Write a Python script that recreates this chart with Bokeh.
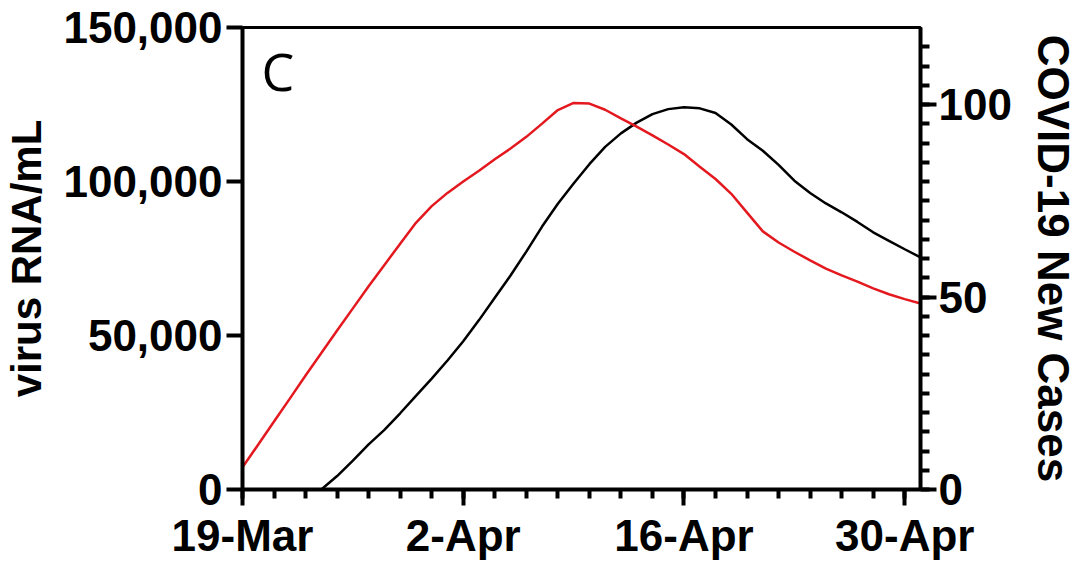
import pandas as pd
from bokeh.plotting import figure
from bokeh.models import Range1d, LinearAxis, FixedTicker, Label, NumeralTickFormatter
from bokeh.embed import file_html
from bokeh.resources import INLINE

# ---- data ----
start_date = pd.Timestamp("2020-03-19")
end_date = pd.Timestamp("2020-05-01")
x_tick_dates = ["2020-03-19", "2020-04-02", "2020-04-16", "2020-04-30"]
x_tick_labels = ["19-Mar", "2-Apr", "16-Apr", "30-Apr"]

# virus RNA/mL (red, left axis), one reading per day from 19-Mar
rna_dates = pd.date_range("2020-03-19", "2020-05-01", freq="D")
rna_values = [7200, 14600, 22100, 29500, 37000, 44300, 51600, 58800, 66000, 72900,
              79800, 86600, 92000, 96300, 100000, 103500, 107200, 110700, 114500, 118800,
              123200, 125500, 125300, 123300, 120500, 117800, 115000, 112000, 108900, 104800,
              100800, 96000, 89900, 83800, 80200, 77200, 74400, 71700, 69500, 67500,
              65300, 63400, 61800, 60400]

# COVID-19 new cases (black, right axis), one reading per day from 24-Mar
case_dates = pd.date_range("2020-03-24", "2020-05-01", freq="D")
case_values = [0, 3.5, 7.5, 11.7, 15.5, 19.8, 24.3, 28.8, 33.5, 38.5,
               44, 49.8, 55.6, 61.8, 68.3, 74.2, 79.5, 84.5, 89, 92.5,
               95.3, 97.5, 98.8, 99.3, 99, 97.8, 94.8, 91, 88, 84.3,
               80.2, 77, 74.3, 72, 69.5, 66.8, 64.6, 62.4, 60.3]

left_ticks = [0, 50000, 100000, 150000]
right_ticks = [0, 50, 100]
right_minor_ticks = list(range(0, 120, 5))
panel_letter = "C"
left_title = "virus RNA/mL"
right_title = "COVID-19 New Cases"


def day_of(d):
    return (pd.Timestamp(d) - start_date).days


rna_x = [day_of(d) for d in rna_dates]
case_x = [day_of(d) for d in case_dates]
x_major = [day_of(d) for d in x_tick_dates]
x_minor = list(range(0, day_of("2020-04-30") + 1, 2))
x_end = day_of(end_date)

FONT = "Liberation Sans"

p = figure(width=1080, height=563, output_backend="svg", toolbar_location=None,
           x_range=Range1d(0, x_end), y_range=Range1d(0, 150000),
           min_border_left=241, min_border_right=155, min_border_top=27, min_border_bottom=74)
p.extra_y_ranges = {"cases": Range1d(0, 120)}
p.xgrid.visible = False
p.ygrid.visible = False
p.outline_line_color = "black"
p.outline_line_width = 3
p.background_fill_color = "white"
p.border_fill_color = "white"


def style(ax, label_standoff=4, title_size="42px"):
    ax.axis_line_width = 4
    ax.axis_line_color = "black"
    ax.major_tick_line_width = 4
    ax.minor_tick_line_width = 4
    ax.major_tick_line_color = "black"
    ax.minor_tick_line_color = "black"
    ax.major_tick_in = 0
    ax.minor_tick_in = 0
    ax.major_tick_out = 16
    ax.minor_tick_out = 9
    ax.major_label_text_font = FONT
    ax.major_label_text_font_style = "bold"
    ax.major_label_text_font_size = "44px"
    ax.major_label_text_color = "black"
    ax.major_label_standoff = label_standoff
    ax.axis_label_text_font = FONT
    ax.axis_label_text_font_style = "bold"
    ax.axis_label_text_font_size = title_size
    ax.axis_label_text_color = "black"


# bottom axis
xa = p.xaxis[0]
style(xa, 5)
xa.ticker = FixedTicker(ticks=x_major, minor_ticks=x_minor)
xa.major_label_overrides = {t: s for t, s in zip(x_major, x_tick_labels)}

# left axis
ya = p.yaxis[0]
style(ya, 4, "42px")
ya.ticker = FixedTicker(ticks=left_ticks, minor_ticks=[])
ya.formatter = NumeralTickFormatter(format="0,0")
ya.axis_label = left_title
ya.axis_label_standoff = 10

# right axis
ra = LinearAxis(y_range_name="cases")
style(ra, 2, "44px")
ra.ticker = FixedTicker(ticks=right_ticks, minor_ticks=right_minor_ticks)
ra.axis_label = right_title
ra.axis_label_standoff = 14
p.add_layout(ra, "right")

p.line(case_x, case_values, y_range_name="cases", line_color="black", line_width=2.5)
p.line(rna_x, rna_values, line_color="#e3191f", line_width=2.5)

p.add_layout(Label(x=1.2, y=136000, text=panel_letter, text_font="Open Sans",
                   text_font_size="52px", text_baseline="alphabetic", text_color="black"))

open("out.html", "w").write(file_html(p, INLINE))
